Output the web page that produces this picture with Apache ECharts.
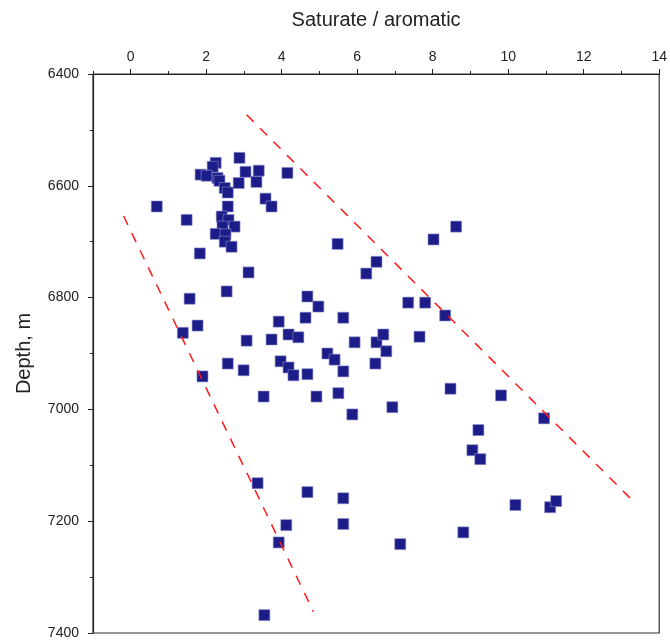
<!DOCTYPE html>
<html>
<head>
<meta charset="utf-8">
<script src="https://cdn.jsdelivr.net/npm/echarts@6/dist/echarts.min.js"></script>
<style>html,body{margin:0;padding:0;background:#fff}#c{width:670px;height:640px}</style>
</head>
<body>
<div id="c"></div>
<script>
// Saturate / aromatic ratio (x) and depth in m (y)
const satArom = [2.25,2.17,2.88,1.85,2.01,2.30,2.35,3.04,3.39,4.15,2.86,3.33,2.49,2.57,3.57,3.73,0.69,2.57,1.48,2.41,
  2.59,2.75,2.43,2.25,2.51,2.49,2.67,1.83,3.12,2.54,1.56,1.77,1.38,3.07,3.73,3.92,4.18,4.44,4.63,4.68,
  4.97,5.63,5.93,6.51,6.24,6.51,6.48,2.57,2.99,1.90,3.97,4.18,4.31,4.68,5.21,5.40,5.63,3.52,4.92,5.50,
  5.87,5.48,8.02,8.62,7.35,7.80,8.33,6.69,6.77,7.65,6.93,8.47,9.81,10.95,9.21,9.05,9.26,3.36,4.68,5.63,
  10.19,11.11,11.27,4.12,5.63,3.92,7.14,8.81,3.54];
const depth = [6559,6566,6550,6580,6582,6586,6591,6575,6573,6577,6595,6593,6604,6612,6623,6637,6637,6637,6661,6655,
  6661,6673,6673,6686,6687,6700,6709,6721,6755,6789,6802,6850,6863,6877,6875,6843,6866,6871,6836,6798,
  6816,6836,6880,6736,6757,6880,6918,6918,6930,6941,6914,6925,6939,6937,6900,6911,6932,6977,6977,6971,
  7009,6704,6696,6673,6809,6809,6832,6866,6896,6870,6996,6963,6975,7016,7037,7073,7089,7132,7148,7159,
  7171,7175,7164,7207,7205,7238,7241,7220,7368];
// Envelope (dashed) lines: [x, depth] end points
const upperEnvelope = [[3.07, 6473], [13.28, 7162]];
const lowerEnvelope = [[-0.19, 6654], [4.84, 7362]];
const xMajorTicks = [0, 2, 4, 6, 8, 10, 12, 14];
const xMinorTicks = [-1, 1, 3, 5, 7, 9, 11, 13];

const FONT = 'Arial, "Liberation Sans", sans-serif';
const chart = echarts.init(document.getElementById('c'));
const points = satArom.map((v, i) => [v, depth[i]]);

chart.setOption({
  animation: false,
  backgroundColor: '#fff',
  grid: { left: 93, right: 9, top: 74, bottom: 6, show: true, borderColor: '#333', borderWidth: 1.2, backgroundColor: 'transparent' },
  xAxis: [{
    type: 'value', position: 'top', min: -1, max: 14,
    name: 'Saturate / aromatic', nameLocation: 'middle', nameGap: 44,
    nameTextStyle: { fontSize: 20, color: '#222', fontFamily: FONT },
    axisLine: { show: true, onZero: false, lineStyle: { color: '#222', width: 1.2 } },
    axisTick: { show: true, inside: false, length: 5, customValues: xMajorTicks, lineStyle: { color: '#222' } },
    axisLabel: { customValues: xMajorTicks, fontSize: 14, color: '#222', margin: 10, fontFamily: FONT },
    splitLine: { show: false }
  }, {
    type: 'value', position: 'top', min: -1, max: 14,
    axisLine: { show: false, onZero: false },
    axisTick: { show: true, inside: false, length: 3, customValues: xMinorTicks, lineStyle: { color: '#222' } },
    axisLabel: { show: false },
    splitLine: { show: false }
  }],
  yAxis: {
    type: 'value', inverse: true, min: 6400, max: 7400, interval: 200,
    name: 'Depth, m', nameLocation: 'middle', nameGap: 59, nameRotate: 90,
    nameTextStyle: { fontSize: 20, color: '#222', fontFamily: FONT },
    axisLine: { show: true, onZero: false, lineStyle: { color: '#222', width: 1.2 } },
    axisTick: { show: true, inside: false, length: 5, lineStyle: { color: '#222' } },
    minorTick: { show: true, splitNumber: 2, length: 3, lineStyle: { color: '#222' } },
    axisLabel: { fontSize: 14, color: '#222', margin: 14, fontFamily: FONT, formatter: v => String(v) },
    splitLine: { show: false }
  },
  series: [{
    type: 'scatter', data: points, symbol: 'rect', symbolSize: 11,
    itemStyle: { color: '#1d1d8a', borderColor: '#8c8cc8', borderWidth: 0.6, opacity: 1 },
    z: 3
  }, {
    type: 'line', data: upperEnvelope, symbol: 'none', silent: true,
    lineStyle: { color: '#ff1a1a', width: 1.5, type: [10, 9] }, z: 4
  }, {
    type: 'line', data: lowerEnvelope, symbol: 'none', silent: true,
    lineStyle: { color: '#ff1a1a', width: 1.5, type: [10, 9] }, z: 4
  }]
});
</script>
</body>
</html>
